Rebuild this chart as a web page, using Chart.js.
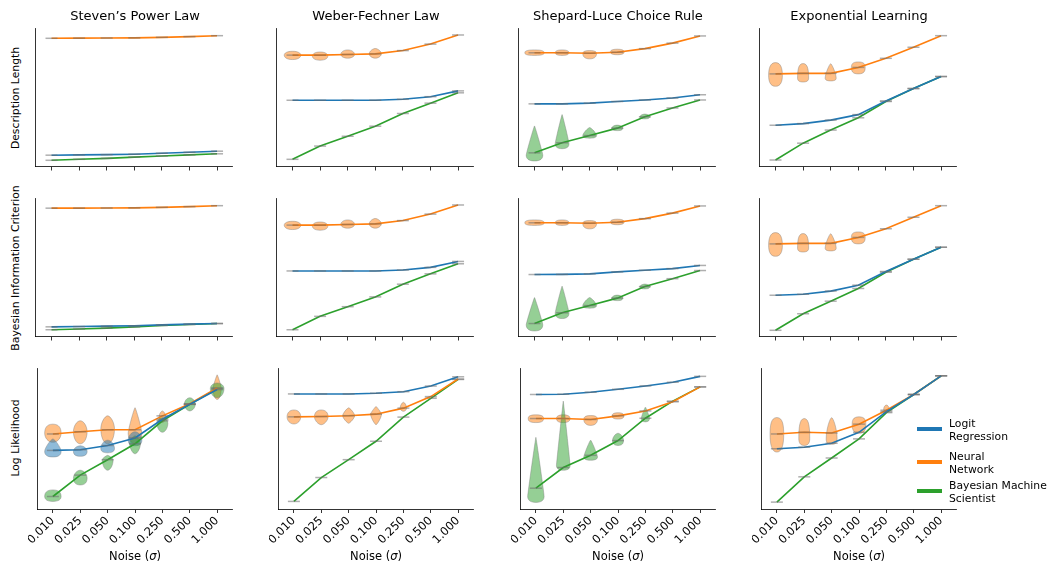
<!DOCTYPE html>
<html>
<head>
<meta charset="utf-8">
<script src="https://cdn.jsdelivr.net/npm/chart.js@4"></script>
<style>
  body { margin: 0; background: #fff; }
  #fig { position: relative; width: 1052px; height: 567px; font-family: "DejaVu Sans", sans-serif; color: #000; }
  #fig canvas { position: absolute; }
  .title { position: absolute; font-size: 13px; text-align: center; width: 240px; }
  .ylab { position: absolute; font-size: 10.8px; white-space: nowrap; transform: translate(-50%, -50%) rotate(-90deg); }
  .xlab { position: absolute; font-size: 11.5px; text-align: center; width: 202px; }
  .leg { position: absolute; font-size: 10.8px; line-height: 12.8px; }
  .leg i { position: absolute; width: 25px; height: 4px; left: -32px; }
</style>
</head>
<body>
<div id="fig"></div>
<script>
const noiseLabels = ['0.010', '0.025', '0.050', '0.100', '0.250', '0.500', '1.000'];
const tasks = ['Steven\u2019s Power Law', 'Weber-Fechner Law', 'Shepard-Luce Choice Rule', 'Exponential Learning'];
const metrics = ['Description Length', 'Bayesian Information Criterion', 'Log Likelihood'];
const models = [['Logit', 'Regression'], ['Neural', 'Network'], ['Bayesian Machine', 'Scientist']];
const colors = ['#1f77b4', '#ff7f0e', '#2ca02c'];
const fills = ['rgba(31,119,180,0.5)', 'rgba(255,127,14,0.5)', 'rgba(44,160,44,0.5)'];

// scores per task (relative scale, 0 = lowest, 100 = highest in each panel)
const dlLogit = [
  [8.2, 8.4, 8.6, 8.9, 9.6, 10.3, 11.1],
  [48.0, 48.0, 48.0, 48.0, 48.7, 50.6, 54.8],
  [45.4, 45.4, 45.9, 47.1, 48.2, 49.6, 52.0],
  [29.9, 31.1, 33.6, 37.6, 47.5, 56.5, 65.2]
];
const dlNeural = [
  [92.9, 93.0, 93.1, 93.2, 93.6, 94.1, 94.8],
  [80.7, 80.7, 81.2, 81.6, 84.0, 88.7, 95.3],
  [82.4, 82.4, 82.1, 82.8, 85.4, 89.4, 94.6],
  [67.1, 67.5, 67.5, 71.8, 78.4, 86.4, 94.8]
];
const dlBms = [
  [4.5, 5.2, 5.9, 6.8, 7.6, 8.4, 9.2],
  [5.2, 14.8, 21.9, 29.2, 38.4, 45.9, 53.4],
  [9.9, 17.2, 22.4, 27.8, 36.0, 42.4, 48.2],
  [4.7, 16.9, 26.4, 35.3, 47.1, 56.5, 65.2]
];
const bicLogit = [
  [7.0, 7.2, 7.5, 7.8, 8.4, 9.0, 9.4],
  [47.5, 47.5, 47.5, 47.5, 48.2, 50.1, 54.4],
  [44.9, 45.0, 45.4, 46.8, 48.0, 49.2, 51.5],
  [29.9, 30.6, 32.9, 37.2, 47.1, 56.0, 64.7]
];
const bicNeural = [
  [93.0, 93.0, 93.1, 93.2, 93.6, 94.1, 94.8],
  [80.7, 80.7, 81.2, 81.6, 84.0, 88.7, 95.3],
  [82.4, 82.4, 82.1, 82.8, 85.4, 89.4, 94.6],
  [67.1, 67.5, 67.5, 71.8, 78.1, 86.4, 94.8]
];
const bicBms = [
  [4.9, 5.4, 6.1, 7.0, 8.0, 8.7, 9.4],
  [4.9, 14.6, 21.6, 28.7, 37.9, 45.4, 52.7],
  [9.4, 17.2, 22.4, 27.8, 36.2, 41.9, 47.8],
  [4.5, 16.5, 25.6, 34.8, 46.6, 56.0, 64.7]
];
const llLogit = [
  [41.7, 42.2, 45.2, 50.6, 63.9, 74.5, 85.0],
  [81.9, 81.9, 81.9, 82.4, 83.5, 87.5, 94.1],
  [81.5, 81.7, 83.1, 85.2, 87.6, 90.2, 94.4],
  [42.9, 44.0, 46.8, 54.6, 69.3, 81.5, 94.8]
];
const llNeural = [
  [53.4, 55.0, 56.4, 56.4, 66.3, 74.9, 86.2],
  [65.6, 65.8, 66.4, 67.5, 71.8, 80.0, 92.5],
  [64.4, 64.4, 63.7, 66.3, 69.8, 76.3, 86.9],
  [53.4, 54.6, 54.1, 60.4, 70.3, 81.5, 94.8]
];
const llBms = [
  [8.9, 24.1, 35.1, 46.4, 62.8, 74.5, 85.7],
  [5.4, 22.4, 35.1, 48.2, 65.4, 78.8, 92.2],
  [14.8, 29.5, 38.2, 48.7, 64.6, 76.8, 86.9],
  [4.9, 22.9, 36.3, 49.9, 68.6, 81.5, 94.8]
];

// violins: [task, model, noise index, low, widest, high, half width, top roundness, bottom roundness]
const dlViolins = [
  [1, 1, 0, 77.5, 80.7, 83.5, 0.3, 0.7, 0.7], [1, 1, 1, 77, 80, 83, 0.28, 0.7, 0.7],
  [1, 1, 2, 78.5, 81.2, 84.5, 0.25, 0.6, 0.6], [1, 1, 3, 78.5, 81.6, 85.5, 0.22, 0.4, 0.5],
  [2, 1, 0, 80.5, 82.4, 84.5, 0.35, 0.9, 0.9], [2, 1, 1, 80.5, 82.4, 84.5, 0.25, 0.8, 0.8],
  [2, 1, 2, 78, 82, 84, 0.25, 0.8, 0.8], [2, 1, 3, 81, 83, 85, 0.25, 0.8, 0.8],
  [2, 2, 0, 4.0, 8.2, 29.4, 0.3, 0.05, 0.8], [2, 2, 1, 12.9, 16.5, 37.6, 0.25, 0.05, 0.8],
  [2, 2, 2, 20.5, 22.4, 28.2, 0.25, 0.2, 0.8], [2, 2, 3, 26, 27.8, 30, 0.2, 0.5, 0.8],
  [2, 2, 4, 34.5, 36, 38, 0.18, 0.4, 0.8],
  [3, 1, 0, 58.1, 66, 75.3, 0.25, 0.8, 0.8], [3, 1, 1, 61.2, 64, 74.6, 0.2, 0.9, 0.8],
  [3, 1, 2, 62, 64, 74.5, 0.2, 0.2, 0.8], [3, 1, 3, 67.1, 71.8, 75.8, 0.25, 0.9, 0.9]
];
const bicViolins = [
  [1, 1, 0, 77.5, 80.7, 83.5, 0.3, 0.7, 0.7], [1, 1, 1, 77, 80, 83, 0.28, 0.7, 0.7],
  [1, 1, 2, 78.5, 81.2, 84.5, 0.25, 0.6, 0.6], [1, 1, 3, 78.5, 81.6, 85.5, 0.22, 0.4, 0.5],
  [2, 1, 0, 80.5, 82.4, 84.5, 0.35, 0.9, 0.9], [2, 1, 1, 80.5, 82.4, 84.5, 0.25, 0.8, 0.8],
  [2, 1, 2, 78, 82, 84, 0.25, 0.8, 0.8], [2, 1, 3, 81, 83, 85, 0.25, 0.8, 0.8],
  [2, 2, 0, 4.0, 8.5, 28.2, 0.3, 0.05, 0.8], [2, 2, 1, 13, 17, 36.5, 0.25, 0.05, 0.8],
  [2, 2, 2, 20.5, 22.4, 28.2, 0.25, 0.2, 0.8], [2, 2, 3, 26, 27.8, 30, 0.2, 0.5, 0.8],
  [2, 2, 4, 34.5, 36, 38, 0.18, 0.4, 0.8],
  [3, 1, 0, 58.1, 66, 75.3, 0.25, 0.8, 0.8], [3, 1, 1, 61.2, 64, 74.6, 0.2, 0.9, 0.8],
  [3, 1, 2, 62, 64, 74.5, 0.2, 0.2, 0.8], [3, 1, 3, 67.1, 71.8, 75.8, 0.25, 0.9, 0.9]
];
const llViolins = [
  [0, 1, 0, 47.5, 54, 60.4, 0.3, 0.8, 0.6], [0, 1, 1, 46.4, 55, 62.8, 0.25, 0.5, 0.6],
  [0, 1, 2, 46.4, 57, 66.3, 0.25, 0.4, 0.6], [0, 1, 3, 46.4, 54, 72.1, 0.25, 0.1, 0.6],
  [0, 1, 4, 61.6, 66, 69.8, 0.12, 0.3, 0.6], [0, 1, 6, 78, 86, 95.5, 0.15, 0.1, 0.6],
  [0, 0, 0, 37, 41, 49.9, 0.3, 0.2, 0.8], [0, 0, 1, 37.5, 41, 45, 0.25, 0.5, 0.8],
  [0, 0, 2, 40, 43, 49, 0.25, 0.5, 0.8], [0, 0, 3, 45, 49, 55, 0.25, 0.5, 0.8],
  [0, 2, 0, 5.4, 9, 13.6, 0.3, 0.8, 0.8], [0, 2, 1, 17.1, 22, 27.6, 0.25, 0.5, 0.8],
  [0, 2, 2, 27.6, 35, 38.2, 0.2, 0.2, 0.5], [0, 2, 3, 39.3, 47, 52.2, 0.2, 0.3, 0.4],
  [0, 2, 4, 54.6, 61, 65.1, 0.2, 0.5, 0.5], [0, 2, 5, 69.8, 74.5, 79.2, 0.2, 0.5, 0.5],
  [0, 2, 6, 79.2, 85.7, 89.7, 0.25, 0.6, 0.6],
  [1, 1, 0, 60.5, 65.6, 70.5, 0.25, 0.7, 0.6], [1, 1, 1, 60, 65.8, 70.5, 0.25, 0.7, 0.4],
  [1, 1, 2, 61, 66.4, 72, 0.22, 0.2, 0.2], [1, 1, 3, 60, 67.5, 73, 0.2, 0.1, 0.2],
  [1, 1, 4, 69.5, 72, 76, 0.12, 0.3, 0.5],
  [2, 1, 0, 61.5, 64.4, 67, 0.28, 0.9, 0.9], [2, 1, 1, 61.5, 64.4, 67, 0.25, 0.8, 0.8],
  [2, 1, 2, 59.5, 63.7, 66.5, 0.25, 0.9, 0.7], [2, 1, 3, 64, 66.3, 68.5, 0.22, 0.8, 0.8],
  [2, 2, 0, 4.7, 9, 51, 0.3, 0.03, 0.8], [2, 2, 1, 27.6, 31, 76.8, 0.25, 0.02, 0.8],
  [2, 2, 2, 34.7, 37, 49, 0.25, 0.1, 0.8], [2, 2, 3, 45.2, 48.7, 53.9, 0.2, 0.4, 0.8],
  [2, 2, 4, 62, 64.6, 72.5, 0.15, 0.1, 0.8],
  [3, 1, 0, 40.5, 53, 65.1, 0.25, 0.9, 0.8], [3, 1, 1, 45.2, 50, 64.4, 0.2, 0.9, 0.8],
  [3, 1, 2, 46, 50, 65, 0.2, 0.3, 0.9], [3, 1, 3, 53.9, 60.4, 65.6, 0.25, 0.9, 0.9],
  [3, 1, 4, 69, 71, 74, 0.1, 0.5, 0.5]
];

const rows = [
  { series: [dlLogit, dlNeural, dlBms], violins: dlViolins },
  { series: [bicLogit, bicNeural, bicBms], violins: bicViolins },
  { series: [llLogit, llNeural, llBms], violins: llViolins }
];

const colX = [34, 275, 517, 758];
const rowY = [27, 197, 367];
const plotW = 202, plotH = 142;
const pad = { l: 6, t: 6, r: 4 };
const extremaColor = 'rgba(110,110,110,0.55)';

const violinPlugin = {
  id: 'violins',
  beforeDatasetsDraw(chart) {
    const items = chart.options.plugins.violins.items || [];
    const xs = chart.scales.x, ys = chart.scales.y;
    const ctx = chart.ctx;
    items.forEach(v => {
      const [, m, xi, lo, peak, hi, w, kt, kb] = v;
      const cx = xs.getPixelForValue(xi);
      const wp = xs.getPixelForValue(xi + w) - cx;
      const yl = ys.getPixelForValue(lo), yp = ys.getPixelForValue(peak), yh = ys.getPixelForValue(hi);
      // thin tails (small k) bend close to the widest point
      const ut = yp - (yp - yh) * Math.min(0.5, kt * 1.5);
      const ub = yp + (yl - yp) * Math.min(0.5, kb * 1.5);
      ctx.save();
      ctx.beginPath();
      ctx.moveTo(cx, yh);
      ctx.bezierCurveTo(cx + wp * kt, yh, cx + wp, ut, cx + wp, yp);
      ctx.bezierCurveTo(cx + wp, ub, cx + wp * kb, yl, cx, yl);
      ctx.bezierCurveTo(cx - wp * kb, yl, cx - wp, ub, cx - wp, yp);
      ctx.bezierCurveTo(cx - wp, ut, cx - wp * kt, yh, cx, yh);
      ctx.closePath();
      ctx.fillStyle = fills[m];
      ctx.fill();
      ctx.strokeStyle = 'rgba(120,120,120,0.4)';
      ctx.lineWidth = 1;
      ctx.stroke();
      ctx.restore();
    });
  }
};

const fig = document.getElementById('fig');

function addText(cls, text, style) {
  const d = document.createElement('div');
  d.className = cls;
  d.innerHTML = text;
  Object.assign(d.style, style);
  fig.appendChild(d);
  return d;
}

rows.forEach((row, r) => {
  const axisH = r === 2 ? 48 : 5;
  tasks.forEach((task, c) => {
    const cv = document.createElement('canvas');
    const w = plotW + pad.l + pad.r, h = plotH + pad.t + axisH;
    cv.width = w; cv.height = h;
    cv.style.left = (colX[c] - pad.l) + 'px';
    cv.style.top = (rowY[r] - pad.t) + 'px';
    cv.style.width = w + 'px'; cv.style.height = h + 'px';
    fig.appendChild(cv);

    const datasets = row.series.map((s, m) => ({
      label: models[m].join(' '),
      data: s[c].map((y, i) => ({ x: i, y })),
      borderColor: colors[m],
      borderWidth: 1.6,
      pointStyle: 'line',
      pointRadius: 6,
      pointBorderColor: extremaColor,
      pointBorderWidth: 1.5,
      tension: 0,
      clip: false
    }));

    new Chart(cv, {
      type: 'line',
      data: { datasets },
      options: {
        responsive: false,
        animation: false,
        devicePixelRatio: 1,
        layout: { padding: { left: pad.l, top: pad.t, right: pad.r, bottom: 0 } },
        plugins: {
          legend: { display: false },
          tooltip: { enabled: false },
          violins: { items: row.violins.filter(v => v[0] === c) }
        },
        scales: {
          x: {
            type: 'linear', min: -0.58, max: 6.56,
            afterBuildTicks: s => { s.ticks = noiseLabels.map((_, i) => ({ value: i })); },
            afterFit: s => { s.height = axisH; },
            ticks: {
              autoSkip: false, minRotation: 45, maxRotation: 45, padding: 1,
              color: '#000', font: { family: 'DejaVu Sans', size: 11.5 },
              callback: v => (r === 2 ? noiseLabels[v] : '')
            },
            grid: { drawOnChartArea: false, drawTicks: true, tickLength: 4, color: '#000', lineWidth: 0.8 },
            border: { color: '#000', width: 0.8 }
          },
          y: {
            min: 0, max: 100,
            afterFit: s => { s.width = 0; },
            ticks: { display: false },
            grid: { display: false },
            border: { color: '#000', width: 0.8 }
          }
        }
      },
      plugins: [violinPlugin]
    });

    if (r === 0) addText('title', task, { left: (colX[c] + plotW / 2 - 120) + 'px', top: '8px' });
    if (r === 2) addText('xlab', 'Noise (<i>\u03c3</i>)', { left: colX[c] + 'px', top: '549px' });
  });
  addText('ylab', metrics[r], { left: '15px', top: (rowY[r] + plotH / 2) + 'px' });
});

const legY = [418, 451, 480];
models.forEach((m, k) => {
  const d = addText('leg', m.join('<br>'), { left: '949px', top: legY[k] + 'px' });
  const sw = document.createElement('i');
  sw.style.background = colors[k];
  sw.style.top = '9px';
  d.appendChild(sw);
});
</script>
</body>
</html>
